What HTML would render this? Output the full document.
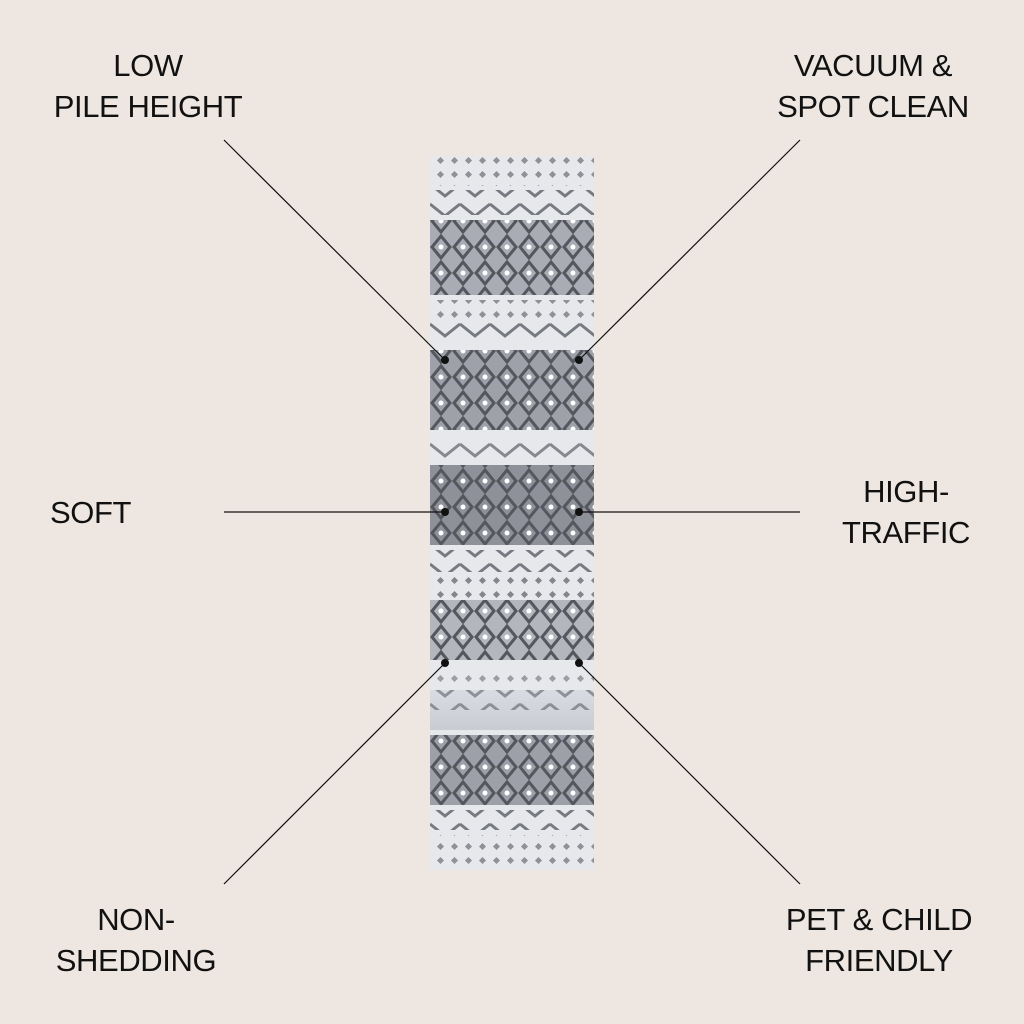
<!DOCTYPE html>
<html><head><meta charset="utf-8"><style>
html,body{margin:0;padding:0;background:#ede6e1;}
body{width:1024px;height:1024px;position:relative;overflow:hidden;font-family:"Liberation Sans",sans-serif;color:#111;}
.t{position:absolute;font-size:31px;letter-spacing:-0.4px;line-height:41px;white-space:nowrap;}
</style></head><body>
<svg width="1024" height="1024" style="position:absolute;left:0;top:0">
<defs>
<pattern id="dia" width="22" height="26" patternUnits="userSpaceOnUse" x="430" y="0">
<path d="M11 2 L20 13 L11 24 L2 13 Z" fill="none" stroke="#55575e" stroke-width="3"/>
<circle cx="11" cy="13" r="2.5" fill="#fff"/>
</pattern>
<pattern id="dots" width="14" height="14" patternUnits="userSpaceOnUse">
<rect x="4" y="4" width="5" height="5" fill="#6a6c72" transform="rotate(45 6.5 6.5)"/>
</pattern>
<pattern id="zig" width="30" height="20" patternUnits="userSpaceOnUse" x="430">
<path d="M0 4 L15 16 L30 4" fill="none" stroke="#5d5f66" stroke-width="3"/>
</pattern>
<linearGradient id="g" x1="0" y1="0" x2="0" y2="1">
<stop offset="0" stop-color="#d9dce2"/><stop offset="1" stop-color="#c9ccd3"/>
</linearGradient>
</defs>
<g>
<rect x="430" y="156" width="164" height="714" fill="#e6e8ec"/>
<rect x="430" y="156" width="164" height="30" fill="url(#dots)" opacity=".7"/>
<rect x="430" y="190" width="164" height="25" fill="url(#zig)" opacity=".8"/>
<rect x="430" y="220" width="164" height="75" fill="#a9acb4"/>
<rect x="430" y="220" width="164" height="75" fill="url(#dia)"/>
<rect x="430" y="300" width="164" height="22" fill="url(#dots)" opacity=".7"/>
<rect x="430" y="322" width="164" height="20" fill="url(#zig)" opacity=".8"/>
<rect x="430" y="350" width="164" height="80" fill="#9ea1a9"/>
<rect x="430" y="350" width="164" height="80" fill="url(#dia)"/>
<rect x="430" y="440" width="164" height="20" fill="url(#zig)" opacity=".7"/>
<rect x="430" y="465" width="164" height="80" fill="#8e9199"/>
<rect x="430" y="465" width="164" height="80" fill="url(#dia)"/>
<rect x="430" y="550" width="164" height="22" fill="url(#zig)" opacity=".8"/>
<rect x="430" y="575" width="164" height="25" fill="url(#dots)" opacity=".8"/>
<rect x="430" y="600" width="164" height="60" fill="#b3b6bd"/>
<rect x="430" y="600" width="164" height="60" fill="url(#dia)"/>
<rect x="430" y="668" width="164" height="20" fill="url(#dots)" opacity=".6"/>
<rect x="430" y="690" width="164" height="40" fill="url(#g)"/>
<rect x="430" y="690" width="164" height="20" fill="url(#zig)" opacity=".6"/>
<rect x="430" y="735" width="164" height="70" fill="#9da0a8"/>
<rect x="430" y="735" width="164" height="70" fill="url(#dia)"/>
<rect x="430" y="810" width="164" height="20" fill="url(#zig)" opacity=".8"/>
<rect x="430" y="835" width="164" height="35" fill="url(#dots)" opacity=".7"/>
</g>
<g stroke="#111" stroke-width="1.2">
<line x1="224" y1="140" x2="445" y2="360"/>
<line x1="800" y1="140" x2="579" y2="360"/>
<line x1="224" y1="512" x2="445" y2="512"/>
<line x1="800" y1="512" x2="579" y2="512"/>
<line x1="224" y1="884" x2="445" y2="663"/>
<line x1="800" y1="884" x2="579" y2="663"/>
</g>
<g fill="#111">
<circle cx="445" cy="360" r="4"/><circle cx="579" cy="360" r="4"/>
<circle cx="445" cy="512" r="4"/><circle cx="579" cy="512" r="4"/>
<circle cx="445" cy="663" r="4"/><circle cx="579" cy="663" r="4"/>
</g>
</svg>
<div class="t" style="left:48px;top:45px;width:200px;text-align:center">LOW<br>PILE HEIGHT</div>
<div class="t" style="left:770px;top:45px;width:206px;text-align:center">VACUUM &amp;<br>SPOT CLEAN</div>
<div class="t" style="left:50px;top:492px">SOFT</div>
<div class="t" style="left:836px;top:471px;width:140px;text-align:center">HIGH-<br>TRAFFIC</div>
<div class="t" style="left:50px;top:899px;width:172px;text-align:center">NON-<br>SHEDDING</div>
<div class="t" style="left:782px;top:899px;width:194px;text-align:center">PET &amp; CHILD<br>FRIENDLY</div>
</body></html>
